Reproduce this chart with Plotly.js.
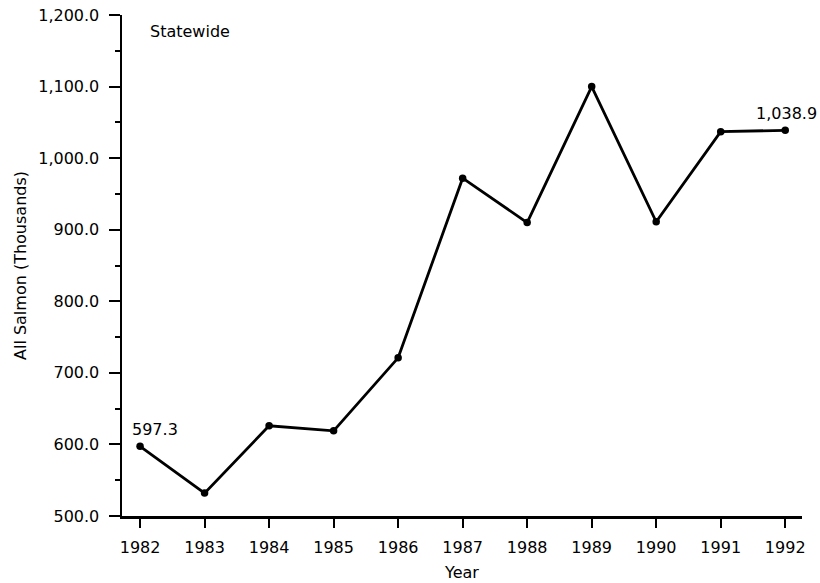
<!DOCTYPE html>
<html>
<head>
<meta charset="utf-8">
<script src="https://cdn.plot.ly/plotly-3.0.1.min.js"></script>
<style>html,body{margin:0;padding:0;background:#fff}#chart{width:820px;height:583px}</style>
</head>
<body>
<div id="chart"></div>
<script>
const years = [1982, 1983, 1984, 1985, 1986, 1987, 1988, 1989, 1990, 1991, 1992];
const salmon = [597.3, 532, 626, 619, 721, 972, 910, 1100, 911, 1037, 1038.9];
const yTicks = [500, 600, 700, 800, 900, 1000, 1100, 1200];
const panelLabel = "Statewide";
const firstLabel = "597.3";
const lastLabel = "1,038.9";

const FONT = "DejaVu Sans, Arial, Helvetica, sans-serif";
const FS = 16;

const trace = {
  x: years, y: salmon, type: "scatter", mode: "lines+markers",
  line: {color: "#000", width: 2.8},
  marker: {color: "#000", size: 7.5},
  hoverinfo: "skip"
};

const layout = {
  width: 820, height: 583,
  margin: {l: 122, r: 18, t: 15, b: 67},
  paper_bgcolor: "#fff", plot_bgcolor: "#fff",
  showlegend: false,
  font: {family: FONT, color: "#000", size: FS},
  xaxis: {
    range: [1981.72, 1992.26],
    tickmode: "array", tickvals: years, ticktext: years.map(String),
    ticks: "outside", ticklen: 9, tickwidth: 2, tickcolor: "#000",
    ticklabelstandoff: 6,
    showline: true, linecolor: "#000", linewidth: 2.5,
    showgrid: false, zeroline: false,
    tickfont: {family: FONT, size: FS},
    title: {text: "Year", font: {family: FONT, size: FS}, standoff: 11}
  },
  yaxis: {
    range: [500, 1200],
    tickmode: "array", tickvals: yTicks,
    ticktext: yTicks.map(v => v.toLocaleString("en-US", {minimumFractionDigits: 1, maximumFractionDigits: 1})),
    ticks: "outside", ticklen: 11, tickwidth: 2, tickcolor: "#000",
    ticklabelstandoff: 6,
    minor: {dtick: 50, tick0: 500, ticks: "outside", ticklen: 5, tickwidth: 2, tickcolor: "#000", showgrid: false},
    showline: true, linecolor: "#000", linewidth: 2.5,
    showgrid: false, zeroline: false,
    tickfont: {family: FONT, size: FS},
    title: {text: "All Salmon (Thousands)", font: {family: FONT, size: FS}, standoff: 8}
  },
  annotations: [
    {x: 0.038, y: 0.968, xref: "paper", yref: "paper", text: panelLabel, showarrow: false,
     xanchor: "left", yanchor: "middle", font: {family: FONT, size: FS}},
    {x: years[0], y: salmon[0], xref: "x", yref: "y", text: firstLabel, showarrow: false,
     xanchor: "center", yanchor: "bottom", xshift: 15, yshift: 5, font: {family: FONT, size: FS}},
    {x: years[years.length - 1], y: salmon[salmon.length - 1], xref: "x", yref: "y", text: lastLabel, showarrow: false,
     xanchor: "center", yanchor: "bottom", xshift: 1, yshift: 5, font: {family: FONT, size: FS}}
  ]
};

Plotly.newPlot("chart", [trace], layout, {staticPlot: true, displayModeBar: false});
</script>
</body>
</html>
